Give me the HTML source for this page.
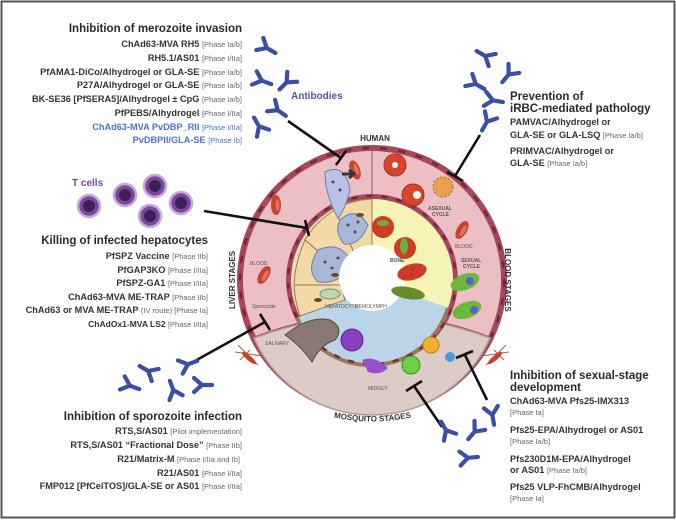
<!DOCTYPE html>
<html><head><meta charset="utf-8"><style>
html,body{margin:0;padding:0;background:#fff}
svg{display:block}
text{font-family:"Liberation Sans",Arial,sans-serif}
.t{font-weight:bold;font-size:11.5px;fill:#2a2a2a}
.e{font-weight:bold;font-size:9.2px;fill:#333}
.p{font-weight:normal;font-size:7.5px;fill:#666}
.b{fill:#4a72d8}
.lb{font-size:5px;fill:#555}
</style></head><body>
<svg width="676" height="520" viewBox="0 0 676 520" xmlns="http://www.w3.org/2000/svg">
<defs>
<g id="ab"><path d="M0,2 L0,12 M0,2 L-7,-6 M0,2 L7,-6" stroke="#3b4fa6" stroke-width="4.2" fill="none" stroke-linecap="round"/></g>
<g id="rbc"><ellipse cx="0" cy="0" rx="5" ry="10" fill="#c8442e"/><ellipse cx="1.5" cy="0" rx="2" ry="6" fill="#e0745c"/></g>
</defs>
<rect x="1.5" y="1.5" width="673" height="516" fill="#fff" stroke="#555" stroke-width="2"/>

<circle cx="372" cy="280" r="135" fill="#a8475c"/>
<circle cx="372" cy="280" r="129" fill="#ebbfc3"/>
<circle cx="372" cy="280" r="132" fill="none" stroke="#6f2a3a" stroke-width="2.5" stroke-dasharray="7 11"/>
<path d="M250,338 Q372,290 494,338 A135 135 0 0 1 250,338 Z" fill="#a8475c"/>
<path d="M254,338 Q372,294 490,338 A129 129 0 0 1 254,338 Z" fill="#dcccc6" stroke="#b59a90" stroke-width="1.5"/>
<circle cx="372" cy="280" r="86" fill="#a8475c"/>
<circle cx="372" cy="280" r="81" fill="#f1dcb8"/>
<path d="M372,280 L372,199 A81 81 0 0 1 448,308 Z" fill="#f6f3b6"/>
<path d="M372,280 L448,308 A81 81 0 0 1 297,318 Z" fill="#bcd4e8"/>
<path d="M297,318 A81 81 0 0 0 448,308" fill="none" stroke="#9a7a5c" stroke-width="4"/>
<circle cx="372" cy="280" r="84" fill="none" stroke="#6f2a3a" stroke-width="2.5" stroke-dasharray="6 9"/>
<line x1="372" y1="145" x2="372" y2="194" stroke="#8e5a62" stroke-width="1"/>

<!-- hepatocytes -->
<g stroke="#9a7a50" stroke-width="1" fill="#f3d9a6">
<path d="M372,280 L372,199 Q350,200 335,210 L355,255 Z"/>
<path d="M355,255 L335,210 Q315,222 305,240 L340,270 Z"/>
<path d="M340,270 L305,240 Q295,262 294,285 L340,285 Z"/>
<path d="M340,285 L294,285 Q295,302 300,316 L345,300 Z"/>
</g>
<path d="M318,250 Q340,240 352,262 Q342,285 318,282 Q305,270 318,250 Z" fill="#a8b6d8" stroke="#7080a8"/>
<path d="M340,220 Q356,205 368,225 Q360,246 344,244 Q334,232 340,220 Z" fill="#a8b6d8" stroke="#7080a8"/>
<path d="M325,172 Q345,162 350,190 Q345,210 338,218 Q325,195 325,172Z" fill="#b8c2e6" stroke="#7080a8"/>
<g fill="#4a4a5a"><circle cx="325" cy="262" r="1.5"/><circle cx="332" cy="268" r="1.5"/><circle cx="338" cy="258" r="1.5"/><circle cx="345" cy="268" r="1.5"/><circle cx="348" cy="225" r="1.5"/><circle cx="355" cy="232" r="1.5"/><circle cx="358" cy="222" r="1.5"/><circle cx="333" cy="182" r="1.5"/><circle cx="340" cy="190" r="1.5"/></g>
<g fill="#6a4a2a"><ellipse cx="335" cy="275" rx="4" ry="2"/><ellipse cx="360" cy="215" rx="4" ry="2"/><ellipse cx="318" cy="300" rx="4" ry="2"/></g>
<ellipse cx="330" cy="294" rx="10" ry="5" fill="#bcd6a8" stroke="#7088a8"/>
<circle cx="372" cy="278" r="33" fill="#fff"/>
<text class="lb" x="325" y="308">HEPATOCYTE</text>

<use href="#rbc" transform="translate(355,170) rotate(-20)"/>
<use href="#rbc" transform="translate(276,205)"/>
<use href="#rbc" transform="translate(264,275) rotate(30)"/>
<use href="#rbc" transform="translate(462,230) rotate(30)"/>
<circle cx="395" cy="165" r="11" fill="#d8452c" stroke="#a83020"/><circle cx="395" cy="165" r="3" fill="#fff"/>
<circle cx="413" cy="195" r="11" fill="#d8452c" stroke="#a83020"/><circle cx="417" cy="195" r="4" fill="#fff"/>
<circle cx="443" cy="187" r="10" fill="#e8a050" stroke="#a07020" stroke-dasharray="2 2"/>
<path d="M342,174 L352,174 M349,170 L354,174 L349,178" stroke="#333" stroke-width="3" fill="none"/>
<text class="lb" x="428" y="210" font-weight="bold">ASEXUAL</text><text class="lb" x="432" y="216" font-weight="bold">CYCLE</text>
<circle cx="383" cy="227" r="11" fill="#cc3d26"/><ellipse cx="383" cy="223" rx="6" ry="3" fill="#6bae3c"/>
<circle cx="405" cy="248" r="11" fill="#cc3d26"/><ellipse cx="404" cy="246" rx="4" ry="8" fill="#6bae3c"/>
<ellipse cx="412" cy="272" rx="15" ry="8" fill="#cc3d26" transform="rotate(-15 412 272)"/>
<ellipse cx="408" cy="293" rx="17" ry="6" fill="#6a8a2c" transform="rotate(10 408 293)"/>
<text class="lb" x="390" y="262" font-weight="bold">BONE</text>
<text class="lb" x="461" y="262" font-weight="bold">SEXUAL</text><text class="lb" x="463" y="268" font-weight="bold">CYCLE</text>
<ellipse cx="465" cy="282" rx="15" ry="8" fill="#6bb83c" transform="rotate(-20 465 282)"/><circle cx="470" cy="281" r="4" fill="#5a64c8"/>
<ellipse cx="467" cy="310" rx="15" ry="8" fill="#6bb83c" transform="rotate(-20 467 310)"/><circle cx="474" cy="310" r="4" fill="#5a64c8"/>
<text class="lb" x="250" y="265">BLOOD</text><text class="lb" x="455" y="248">BLOOD</text>
<text class="lb" x="355" y="308">HEMOLYMPH</text>
<path d="M285,335 Q310,315 330,320 Q345,328 335,340 Q320,345 312,362 Q300,345 285,335Z" fill="#8a7872" stroke="#5a4a44"/>
<circle cx="352" cy="340" r="11" fill="#8c3fc0" stroke="#5a2a8a"/>
<path d="M362,360 Q375,355 388,368 Q380,376 368,372 Z" fill="#9a4ed0"/>
<circle cx="411" cy="365" r="9" fill="#6ed040" stroke="#3a9020"/>
<circle cx="431" cy="345" r="8" fill="#f0b030" stroke="#c08010"/>
<circle cx="450" cy="357" r="5" fill="#4a9ae0"/>
<text class="lb" x="265" y="345">SALIVARY</text>
<text class="lb" x="368" y="390">MIDGUT</text>
<text class="lb" x="252" y="308">Sporozoite</text>

<text x="375" y="141" text-anchor="middle" font-size="8" font-weight="bold" fill="#333">HUMAN</text>
<text transform="translate(235,280) rotate(-90)" text-anchor="middle" font-size="8" font-weight="bold" fill="#333">LIVER STAGES</text>
<text transform="translate(505,280) rotate(90)" text-anchor="middle" font-size="8" font-weight="bold" fill="#333">BLOOD STAGES</text>
<path id="mq" d="M295,405 Q372,438 450,405" fill="none"/>
<text font-size="8" font-weight="bold" fill="#333"><textPath href="#mq" startOffset="50%" text-anchor="middle">MOSQUITO STAGES</textPath></text>

<g stroke="#111" stroke-width="2.6" fill="none">
<line x1="288" y1="121" x2="341" y2="158"/><line x1="336" y1="165" x2="346" y2="151"/>
<line x1="204" y1="211" x2="307" y2="228"/><line x1="305" y1="220" x2="309" y2="236"/>
<line x1="193" y1="362" x2="265" y2="322"/><line x1="260" y1="314" x2="270" y2="330"/>
<line x1="480" y1="135" x2="455" y2="176"/><line x1="447" y1="172" x2="463" y2="181"/>
<line x1="487" y1="400" x2="465" y2="355"/><line x1="456" y1="358" x2="473" y2="351"/>
<line x1="442" y1="427" x2="414" y2="386"/><line x1="406" y1="391" x2="422" y2="381"/>
</g>

<use href="#ab" transform="translate(265,47) rotate(-60)"/>
<use href="#ab" transform="translate(260,80) rotate(-70)"/>
<use href="#ab" transform="translate(288,81) rotate(45)"/>
<use href="#ab" transform="translate(276,109) rotate(-55)"/>
<use href="#ab" transform="translate(260,128) rotate(150)"/>
<text x="291" y="99" font-size="10" font-weight="bold" fill="#4a55a8">Antibodies</text>
<use href="#ab" transform="translate(487,57) rotate(120)"/>
<use href="#ab" transform="translate(510,73) rotate(40)"/>
<use href="#ab" transform="translate(474,83) rotate(-60)"/>
<use href="#ab" transform="translate(491,100) rotate(-80)"/>
<use href="#ab" transform="translate(488,120) rotate(30)"/>
<use href="#ab" transform="translate(128,385) rotate(-70)"/>
<use href="#ab" transform="translate(150,372) rotate(120)"/>
<use href="#ab" transform="translate(186,365) rotate(-110)"/>
<use href="#ab" transform="translate(174,392) rotate(160)"/>
<use href="#ab" transform="translate(200,385) rotate(-90)"/>
<use href="#ab" transform="translate(447,432) rotate(150)"/>
<use href="#ab" transform="translate(476,430) rotate(40)"/>
<use href="#ab" transform="translate(492,413) rotate(-10)"/>
<use href="#ab" transform="translate(466,458) rotate(-95)"/>

<text x="72" y="186" font-size="10" font-weight="bold" fill="#6a4aa8">T cells</text>
<g fill="#7a4a9a" stroke="#c8a8e0" stroke-width="2.5">
<circle cx="89" cy="206" r="11"/><circle cx="125" cy="195" r="11"/><circle cx="155" cy="186" r="11"/><circle cx="150" cy="216" r="11"/><circle cx="181" cy="203" r="11"/>
</g>
<g fill="#3e1f5a"><circle cx="89" cy="206" r="6"/><circle cx="125" cy="195" r="6"/><circle cx="155" cy="186" r="6"/><circle cx="150" cy="216" r="6"/><circle cx="181" cy="203" r="6"/></g>

<g text-anchor="end">
<text class="t" x="242" y="32">Inhibition of merozoite invasion</text>
<text class="e" x="242" y="47">ChAd63-MVA RH5 <tspan class="p">[Phase Ia/b]</tspan></text>
<text class="e" x="242" y="61">RH5.1/AS01 <tspan class="p">[Phase I/IIa]</tspan></text>
<text class="e" x="242" y="75">PfAMA1-DiCo/Alhydrogel or GLA-SE <tspan class="p">[Phase Ia/b]</tspan></text>
<text class="e" x="242" y="88">P27A/Alhydrogel or GLA-SE <tspan class="p">[Phase Ia/b]</tspan></text>
<text class="e" x="242" y="102">BK-SE36 [PfSERA5]/Alhydrogel ± CpG <tspan class="p">[Phase Ia/b]</tspan></text>
<text class="e" x="242" y="116">PfPEBS/Alhydrogel <tspan class="p">[Phase I/IIa]</tspan></text>
<text class="e b" x="242" y="130">ChAd63-MVA PvDBP_RII <tspan class="p b">[Phase I/IIa]</tspan></text>
<text class="e b" x="242" y="143">PvDBPII/GLA-SE <tspan class="p b">[Phase Ib]</tspan></text>
<text class="t" x="208" y="244">Killing of infected hepatocytes</text>
<text class="e" x="208" y="259">PfSPZ Vaccine <tspan class="p">[Phase IIb]</tspan></text>
<text class="e" x="208" y="273">PfGAP3KO <tspan class="p">[Phase I/IIa]</tspan></text>
<text class="e" x="208" y="286">PfSPZ-GA1 <tspan class="p">[Phase I/IIa]</tspan></text>
<text class="e" x="208" y="300">ChAd63-MVA ME-TRAP <tspan class="p">[Phase IIb]</tspan></text>
<text class="e" x="208" y="313">ChAd63 or MVA ME-TRAP <tspan class="p">(IV route) [Phase Ia]</tspan></text>
<text class="e" x="208" y="327" style="font-size:8.5px">ChAdOx1-MVA LS2 <tspan class="p">[Phase I/IIa]</tspan></text>
<text class="t" x="242" y="420">Inhibition of sporozoite infection</text>
<text class="e" x="242" y="434">RTS,S/AS01 <tspan class="p">[Pilot implementation]</tspan></text>
<text class="e" x="242" y="448">RTS,S/AS01 “Fractional Dose” <tspan class="p">[Phase IIb]</tspan></text>
<text class="e" x="240" y="462">R21/Matrix-M <tspan class="p">[Phase I/IIa and Ib]</tspan></text>
<text class="e" x="242" y="476">R21/AS01 <tspan class="p">[Phase I/IIa]</tspan></text>
<text class="e" x="242" y="489">FMP012 [PfCelTOS]/GLA-SE or AS01 <tspan class="p">[Phase I/IIa]</tspan></text>
</g>

<text class="t" x="510" y="100">Prevention of</text>
<text class="t" x="510" y="112">iRBC-mediated pathology</text>
<text class="e" x="510" y="125">PAMVAC/Alhydrogel or</text>
<text class="e" x="510" y="138">GLA-SE or GLA-LSQ <tspan class="p">[Phase Ia/b]</tspan></text>
<text class="e" x="510" y="154">PRIMVAC/Alhydrogel or</text>
<text class="e" x="510" y="166">GLA-SE <tspan class="p">[Phase Ia/b]</tspan></text>
<text class="t" x="510" y="379">Inhibition of sexual-stage</text>
<text class="t" x="510" y="391">development</text>
<text class="e" x="510" y="404">ChAd63-MVA Pfs25-IMX313</text>
<text class="p" x="510" y="415">[Phase Ia]</text>
<text class="e" x="510" y="433">Pfs25-EPA/Alhydrogel or AS01</text>
<text class="p" x="510" y="444">[Phase Ia/b]</text>
<text class="e" x="510" y="462">Pfs230D1M-EPA/Alhydrogel</text>
<text class="e" x="510" y="473">or AS01 <tspan class="p">[Phase Ia/b]</tspan></text>
<text class="e" x="510" y="490">Pfs25 VLP-FhCMB/Alhydrogel</text>
<text class="p" x="510" y="501">[Phase Ia]</text>

<g stroke="#8a6a40" stroke-width="1" fill="none">
<path d="M238,345 L258,365 M240,360 L250,350 M235,352 L262,356"/>
<path d="M506,345 L486,365 M504,360 L494,350 M509,352 L482,356"/>
</g>
<ellipse cx="249" cy="358" rx="9" ry="2.5" fill="#c84030" transform="rotate(40 249 358)"/>
<ellipse cx="495" cy="358" rx="9" ry="2.5" fill="#c84030" transform="rotate(-40 495 358)"/>
</svg>
</body></html>
